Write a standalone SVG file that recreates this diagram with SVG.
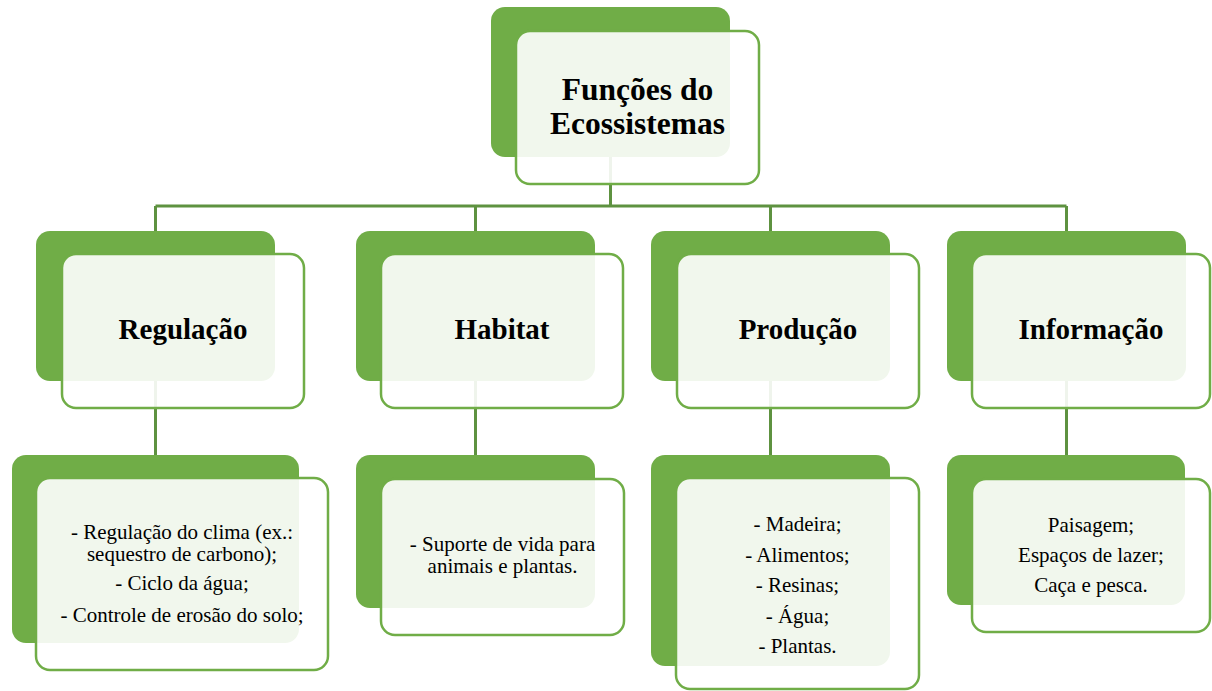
<svg xmlns="http://www.w3.org/2000/svg" width="1212" height="691" viewBox="0 0 1212 691">
<defs>
<style>
.back{fill:#70ad47;}
.front{fill:#ffffff;fill-opacity:0.9;stroke:#70ad47;stroke-width:2.5;}
.conn{fill:none;stroke:#5e9240;stroke-width:3;}
</style>
</defs>
<rect width="1212" height="691" fill="#ffffff"/>
<g id="connectors">
<path class="conn" d="M610.5,157 V206 M155.5,206 H1066.5 M155.5,206 V231 M475.5,206 V231 M770.5,206 V231 M1066.5,206 V231"/>
<path class="conn" d="M155.5,381 V455 M475.5,381 V455 M770.5,381 V455 M1066.5,381 V455"/>
</g>
<g id="root">
<rect class="back" x="491" y="7" width="239" height="150" rx="14"/>
<rect class="front" x="516" y="31" width="243" height="153" rx="14"/>
<text x="637.5" y="100" font-family="Liberation Serif" font-size="31.5" font-weight="bold" text-anchor="middle">Funções do</text>
<text x="637.5" y="134" font-family="Liberation Serif" font-size="31.5" font-weight="bold" text-anchor="middle">Ecossistemas</text>
</g>
<g id="regulacao">
<rect class="back" x="36" y="231" width="239" height="150" rx="14"/>
<rect class="front" x="62" y="254" width="242" height="154" rx="14"/>
<text x="183" y="339" font-family="Liberation Serif" font-size="29" font-weight="bold" text-anchor="middle">Regulação</text>
</g>
<g id="habitat">
<rect class="back" x="356" y="231" width="239" height="150" rx="14"/>
<rect class="front" x="381" y="254" width="242" height="154" rx="14"/>
<text x="502" y="339" font-family="Liberation Serif" font-size="29" font-weight="bold" text-anchor="middle">Habitat</text>
</g>
<g id="producao">
<rect class="back" x="651" y="231" width="239" height="150" rx="14"/>
<rect class="front" x="677" y="254" width="242" height="154" rx="14"/>
<text x="798" y="339" font-family="Liberation Serif" font-size="29" font-weight="bold" text-anchor="middle">Produção</text>
</g>
<g id="informacao">
<rect class="back" x="947" y="231" width="239" height="150" rx="14"/>
<rect class="front" x="972" y="254" width="238" height="154" rx="14"/>
<text x="1091" y="339" font-family="Liberation Serif" font-size="29" font-weight="bold" text-anchor="middle">Informação</text>
</g>
<g id="regulacao-itens">
<rect class="back" x="12" y="455" width="287" height="188" rx="14"/>
<rect class="front" x="36" y="478" width="292" height="192" rx="14"/>
<text x="182" y="539" font-family="Liberation Serif" font-size="21" text-anchor="middle">- Regulação do clima (ex.:</text>
<text x="182" y="561" font-family="Liberation Serif" font-size="21" text-anchor="middle">sequestro de carbono);</text>
<text x="182" y="590" font-family="Liberation Serif" font-size="21" text-anchor="middle">- Ciclo da água;</text>
<text x="182" y="622" font-family="Liberation Serif" font-size="21" text-anchor="middle">- Controle de erosão do solo;</text>
</g>
<g id="habitat-itens">
<rect class="back" x="356" y="455" width="239" height="153" rx="14"/>
<rect class="front" x="381" y="479" width="243" height="156" rx="14"/>
<text x="502.5" y="551" font-family="Liberation Serif" font-size="21" text-anchor="middle">- Suporte de vida para</text>
<text x="502.5" y="573" font-family="Liberation Serif" font-size="21" text-anchor="middle">animais e plantas.</text>
</g>
<g id="producao-itens">
<rect class="back" x="651" y="455" width="239" height="211" rx="14"/>
<rect class="front" x="676" y="478" width="243" height="211" rx="14"/>
<text x="797.5" y="531" font-family="Liberation Serif" font-size="21" text-anchor="middle">- Madeira;</text>
<text x="797.5" y="562" font-family="Liberation Serif" font-size="21" text-anchor="middle">- Alimentos;</text>
<text x="797.5" y="592" font-family="Liberation Serif" font-size="21" text-anchor="middle">- Resinas;</text>
<text x="797.5" y="623" font-family="Liberation Serif" font-size="21" text-anchor="middle">- Água;</text>
<text x="797.5" y="653" font-family="Liberation Serif" font-size="21" text-anchor="middle">- Plantas.</text>
</g>
<g id="informacao-itens">
<rect class="back" x="947" y="455" width="238" height="150" rx="14"/>
<rect class="front" x="972" y="479" width="238" height="153" rx="14"/>
<text x="1091" y="532" font-family="Liberation Serif" font-size="21" text-anchor="middle">Paisagem;</text>
<text x="1091" y="562" font-family="Liberation Serif" font-size="21" text-anchor="middle">Espaços de lazer;</text>
<text x="1091" y="592" font-family="Liberation Serif" font-size="21" text-anchor="middle">Caça e pesca.</text>
</g>
</svg>
